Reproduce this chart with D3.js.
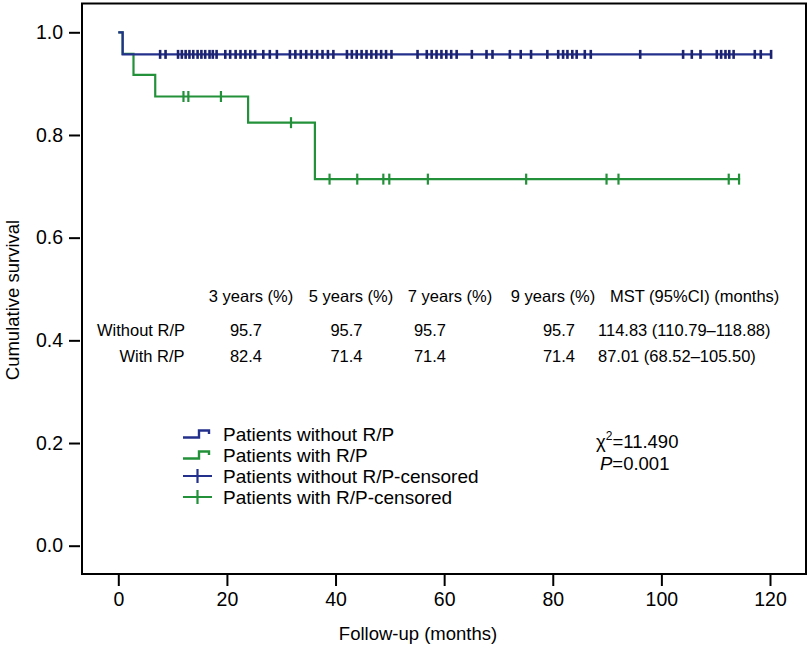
<!DOCTYPE html>
<html>
<head>
<meta charset="utf-8">
<script src="https://cdn.jsdelivr.net/npm/d3@7"></script>
<style>
  html, body { margin: 0; padding: 0; background: #fff; }
  svg { display: block; font-family: "Liberation Sans", Arial, Helvetica, sans-serif; }
</style>
</head>
<body>
<svg id="chart" width="810" height="648"></svg>
<script>
// ---------------- DATA ----------------
const withoutTimes = [0, 0.8, 120.3];
const withoutSurv  = [1.0, 0.957, 0.957];
const withTimes    = [0, 0.8, 2.8, 6.8, 23.9, 36.2, 114.5];
const withSurv     = [1.0, 0.958, 0.917, 0.875, 0.824, 0.714, 0.714];

const withoutCensored = [7.7, 8.7, 11.0, 11.7, 12.4, 13.1, 13.8, 14.6, 15.3, 16.0, 16.8, 17.4, 18.1,
  19.7, 20.6, 21.6, 22.5, 23.4, 24.3, 25.2, 26.7, 27.9, 29.2,
  31.6, 32.6, 33.6, 34.6, 35.6, 36.6, 37.6, 38.6, 39.6,
  42.1, 43.0, 43.9, 44.8, 45.7, 46.6, 47.5, 48.4, 49.3, 50.3,
  55.1, 56.8, 57.7, 58.6, 59.5, 60.4, 61.3, 62.3, 65.1, 67.8, 68.9,
  72.1, 74.1, 76.0, 79.0, 81.0, 81.9, 82.7, 83.6, 84.4, 85.9, 87.0,
  96.1, 104.0, 105.6, 107.2, 110.2, 111.0, 111.8, 112.5, 113.3, 117.2, 118.3, 120.2];
const withCensored = [12.0, 12.9, 18.9, 31.8, 38.9, 44.0, 48.8, 49.9, 57.0, 75.1, 89.9, 92.1, 112.4, 114.3];

const xTicks = [0, 20, 40, 60, 80, 100, 120];
const yTicks = [0.0, 0.2, 0.4, 0.6, 0.8, 1.0];

const tableHeaders = ["3 years (%)", "5 years (%)", "7 years (%)", "9 years (%)", "MST (95%CI) (months)"];
const rowLabels    = ["Without R/P", "With R/P"];
const rowWithout   = ["95.7", "95.7", "95.7", "95.7", "114.83 (110.79\u2013118.88)"];
const rowWith      = ["82.4", "71.4", "71.4", "71.4", "87.01 (68.52\u2013105.50)"];

const legendLabels = ["Patients without R/P", "Patients with R/P",
                      "Patients without R/P-censored", "Patients with R/P-censored"];
const chiText = "11.490";
const pText   = "0.001";

// ---------------- LAYOUT ----------------
const blue = "#24318c";
const blueMark = "#1b2270";
const green = "#23913a";
const svg = d3.select("#chart");

const x = d3.scaleLinear().domain([0, 120]).range([118.3, 770]);
const y = d3.scaleLinear().domain([0, 1]).range([545.7, 32.3]);

// frame
svg.append("rect")
  .attr("x", 82).attr("y", 3.5).attr("width", 724).attr("height", 570.5)
  .attr("fill", "none").attr("stroke", "#000").attr("stroke-width", 2);

// axes
const yAxis = d3.axisLeft(y).tickValues(yTicks).tickFormat(d3.format(".1f"))
  .tickSize(11).tickPadding(6);
const gy = svg.append("g").attr("transform", "translate(80,0)").call(yAxis);
gy.select(".domain").remove();
gy.selectAll(".tick line").attr("stroke", "#000").attr("stroke-width", 2);
gy.selectAll(".tick text").attr("font-size", 19.5).attr("fill", "#000")
  .attr("font-family", "Liberation Sans, Arial, sans-serif");

const xAxis = d3.axisBottom(x).tickValues(xTicks).tickFormat(d3.format("d"))
  .tickSize(11).tickPadding(6);
const gx = svg.append("g").attr("transform", "translate(0,575)").call(xAxis);
gx.select(".domain").remove();
gx.selectAll(".tick line").attr("stroke", "#000").attr("stroke-width", 2);
gx.selectAll(".tick text").attr("font-size", 19.5).attr("fill", "#000")
  .attr("font-family", "Liberation Sans, Arial, sans-serif");

// axis titles
svg.append("text").attr("x", 418).attr("y", 640).attr("text-anchor", "middle")
  .attr("font-size", 18.5).attr("fill", "#000").text("Follow-up (months)");
svg.append("text").attr("transform", "translate(19,300) rotate(-90)").attr("text-anchor", "middle")
  .attr("font-size", 18.5).attr("fill", "#000").text("Cumulative survival");

// survival curves
const line = d3.line().x(d => x(d[0])).y(d => y(d[1])).curve(d3.curveStepAfter);
const withoutPts = withoutTimes.map((t, i) => [t, withoutSurv[i]]);
const withPts = withTimes.map((t, i) => [t, withSurv[i]]);

svg.append("path").attr("d", line(withPts)).attr("fill", "none")
  .attr("stroke", green).attr("stroke-width", 2.2);
svg.append("path").attr("d", line(withoutPts)).attr("fill", "none")
  .attr("stroke", blue).attr("stroke-width", 2.2);

function survAt(times, surv, t) {
  let s = surv[0];
  for (let i = 0; i < times.length; i++) if (times[i] <= t) s = surv[i];
  return s;
}

svg.append("g").selectAll("line").data(withCensored).join("line")
  .attr("x1", d => x(d)).attr("x2", d => x(d))
  .attr("y1", d => y(survAt(withTimes, withSurv, d)) - 5.5)
  .attr("y2", d => y(survAt(withTimes, withSurv, d)) + 5.5)
  .attr("stroke", green).attr("stroke-width", 2.2);

svg.append("g").selectAll("line").data(withoutCensored).join("line")
  .attr("x1", d => x(d)).attr("x2", d => x(d))
  .attr("y1", d => y(survAt(withoutTimes, withoutSurv, d)) - 4.5)
  .attr("y2", d => y(survAt(withoutTimes, withoutSurv, d)) + 4.5)
  .attr("stroke", blueMark).attr("stroke-width", 2.6);

// table
const headerX = [251, 351, 450, 553, 610];
const headerAnchor = ["middle", "middle", "middle", "middle", "start"];
const valueX = [246, 346.5, 430, 559, 598];
const tbl = svg.append("g").attr("font-size", 16.5).attr("fill", "#000");
tbl.selectAll("text.h").data(tableHeaders).join("text").attr("class", "h")
  .attr("x", (d, i) => headerX[i]).attr("y", 302)
  .attr("text-anchor", (d, i) => headerAnchor[i]).text(d => d);
tbl.append("text").attr("x", 97).attr("y", 336).text(rowLabels[0]);
tbl.append("text").attr("x", 119.5).attr("y", 362).text(rowLabels[1]);
[rowWithout, rowWith].forEach((row, r) => {
  tbl.selectAll("text.v" + r).data(row).join("text").attr("class", "v" + r)
    .attr("x", (d, i) => valueX[i]).attr("y", r === 0 ? 336 : 362)
    .attr("text-anchor", (d, i) => i === 4 ? "start" : "middle").text(d => d);
});

// legend
const legY = [434, 455, 476, 497];
const legColors = [blue, green, blue, green];
const leg = svg.append("g");
legendLabels.forEach((lab, i) => {
  const yy = legY[i];
  if (i < 2) {
    leg.append("path")
      .attr("d", `M183,${yy + 3.5} H199 V${yy - 3.5} H209 V${yy}`)
      .attr("fill", "none").attr("stroke", legColors[i]).attr("stroke-width", 2.4);
  } else {
    leg.append("path")
      .attr("d", `M183,${yy} H212 M197.5,${yy - 7} V${yy + 7}`)
      .attr("fill", "none").attr("stroke", legColors[i]).attr("stroke-width", 2.2);
  }
  leg.append("text").attr("x", 223).attr("y", yy + 6.8)
    .attr("font-size", 19).attr("fill", "#000").text(lab);
});

// statistics
const st = svg.append("text").attr("x", 596).attr("y", 448).attr("font-size", 18.5).attr("fill", "#000");
st.append("tspan").text("\u03c7");
st.append("tspan").attr("font-size", 12).attr("dy", -8).text("2");
st.append("tspan").attr("dy", 8).text("=" + chiText);
const pt = svg.append("text").attr("x", 600).attr("y", 470).attr("font-size", 18.5).attr("fill", "#000");
pt.append("tspan").attr("font-style", "italic").text("P");
pt.append("tspan").text("=" + pText);
</script>
</body>
</html>
